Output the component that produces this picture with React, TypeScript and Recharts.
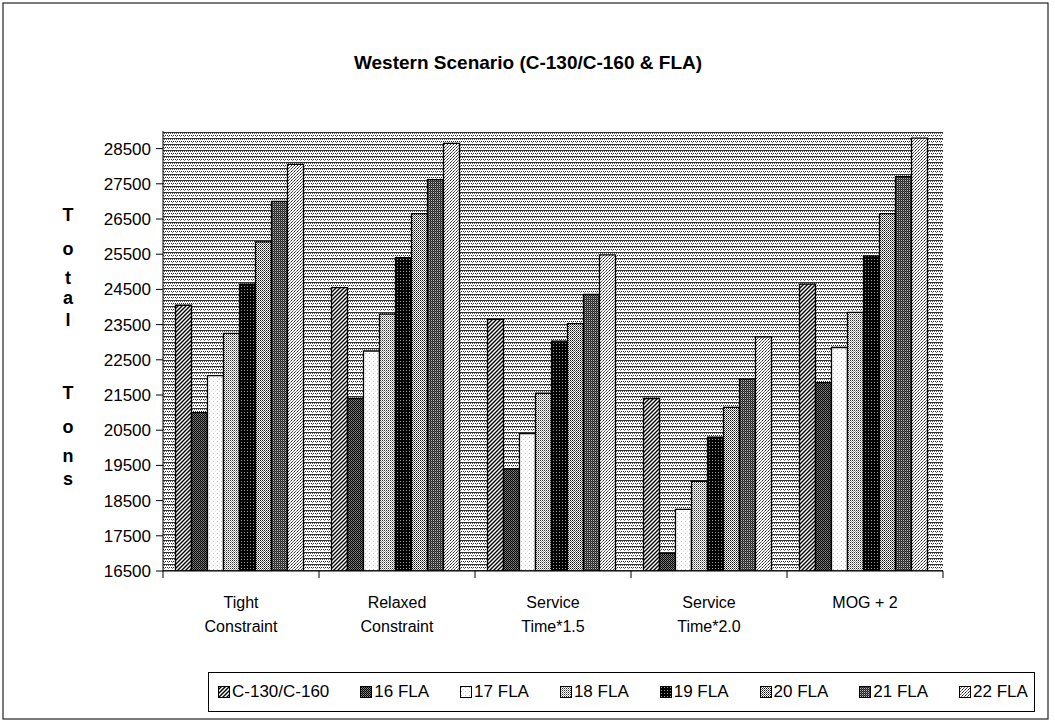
import React from 'react';
import { BarChart, Bar, XAxis, YAxis, CartesianGrid } from 'recharts';

const categories = ['Tight Constraint', 'Relaxed Constraint', 'Service Time*1.5', 'Service Time*2.0', 'MOG + 2'];
const categoryLines = [['Tight', 'Constraint'], ['Relaxed', 'Constraint'], ['Service', 'Time*1.5'], ['Service', 'Time*2.0'], ['MOG + 2']];

const seriesNames = ['C-130/C-160', '16 FLA', '17 FLA', '18 FLA', '19 FLA', '20 FLA', '21 FLA', '22 FLA'];
const c130 = [24050, 24550, 23650, 21400, 24650];
const fla16 = [21000, 21400, 19400, 17000, 21850];
const fla17 = [22050, 22750, 20400, 18250, 22850];
const fla18 = [23250, 23800, 21550, 19050, 23850];
const fla19 = [24650, 25400, 23030, 20300, 25450];
const fla20 = [25850, 26650, 23530, 21150, 26650];
const fla21 = [27000, 27620, 24360, 21950, 27700];
const fla22 = [28050, 28650, 25480, 23150, 28800];
const yTicks = [16500, 17500, 18500, 19500, 20500, 21500, 22500, 23500, 24500, 25500, 26500, 27500, 28500];

const series = [c130, fla16, fla17, fla18, fla19, fla20, fla21, fla22];
const keys = ['s0', 's1', 's2', 's3', 's4', 's5', 's6', 's7'];

const data = categories.map((name, i) => {
  const row: any = { name };
  series.forEach((s, j) => { row[keys[j]] = s[i]; });
  return row;
});

const W = 1055;
const H = 728;
const PLOT_L = 163;
const PLOT_R = 943;
const PLOT_T = 131;
const PLOT_B = 571;
const FONT = '"Liberation Sans", Arial, Helvetica, sans-serif';

const Patterns = () => (
  <svg width={0} height={0} style={{ position: 'absolute' }}>
    <defs>
      <pattern id="bgPat" width="4" height="6" patternUnits="userSpaceOnUse">
        <rect width="4" height="6" fill="#fff" />
        <rect y="0" width="4" height="1" fill="#333" />
        <rect x="0" y="1" width="1" height="1" fill="#555" />
        <rect x="2" y="1" width="1" height="1" fill="#555" />
        <rect x="1" y="3" width="1" height="1" fill="#222" />
        <rect x="3" y="3" width="1" height="1" fill="#222" />
        <rect x="0" y="4" width="1" height="1" fill="#888" />
      </pattern>
      <pattern id="p0" width="4" height="4" patternUnits="userSpaceOnUse">
        <rect width="4" height="4" fill="#fff" />
        <path d="M0,4 L4,0 M-1,1 L1,-1 M3,5 L5,3" stroke="#000" strokeWidth="1.4" />
      </pattern>
      <pattern id="p1" width="2" height="2" patternUnits="userSpaceOnUse">
        <rect width="2" height="2" fill="#000" />
        <rect x="1" y="0" width="1" height="1" fill="#888" />
        <rect x="0" y="1" width="1" height="1" fill="#666" />
      </pattern>
      <pattern id="p2" width="4" height="4" patternUnits="userSpaceOnUse">
        <rect width="4" height="4" fill="#fff" />
        <rect x="1" y="1" width="1" height="1" fill="#bbb" />
        <rect x="3" y="3" width="1" height="1" fill="#ddd" />
      </pattern>
      <pattern id="p3" width="2" height="2" patternUnits="userSpaceOnUse">
        <rect width="2" height="2" fill="#fff" />
        <rect x="0" y="0" width="1" height="1" fill="#333" />
        <rect x="1" y="1" width="1" height="1" fill="#999" />
      </pattern>
      <pattern id="p4" width="3" height="3" patternUnits="userSpaceOnUse">
        <rect width="3" height="3" fill="#000" />
        <rect x="1" y="1" width="1" height="1" fill="#999" />
      </pattern>
      <pattern id="p5" width="2" height="2" patternUnits="userSpaceOnUse">
        <rect width="2" height="2" fill="#fff" />
        <rect x="0" y="0" width="1" height="1" fill="#111" />
        <rect x="1" y="1" width="1" height="1" fill="#666" />
      </pattern>
      <pattern id="p6" width="2" height="2" patternUnits="userSpaceOnUse">
        <rect width="2" height="2" fill="#222" />
        <rect x="1" y="0" width="1" height="1" fill="#bbb" />
        <rect x="0" y="1" width="1" height="1" fill="#555" />
      </pattern>
      <pattern id="p7" width="3" height="3" patternUnits="userSpaceOnUse">
        <rect width="3" height="3" fill="#fff" />
        <rect x="0" y="0" width="1" height="1" fill="#222" />
        <rect x="2" y="1" width="1" height="1" fill="#777" />
        <rect x="1" y="2" width="1" height="1" fill="#555" />
      </pattern>
    </defs>
  </svg>
);

const CategoryTick = (props: any) => {
  const { x, y, index } = props;
  const lines = categoryLines[index] || [String(props.payload.value)];
  const half = (PLOT_R - PLOT_L) / categories.length / 2;
  return (
    <g>
      <line x1={x - half} y1={y} x2={x - half} y2={y + 7} stroke="#000" />
      {index === categories.length - 1 && (
        <line x1={x + half} y1={y} x2={x + half} y2={y + 7} stroke="#000" />
      )}
      <text x={x} y={y} textAnchor="middle" fontSize={16} fontFamily={FONT} fill="#000">
        {lines.map((l: string, i: number) => (
          <tspan key={i} x={x} dy={i === 0 ? 37 : 24}>{l}</tspan>
        ))}
      </text>
    </g>
  );
};

const yLetters = [
  ['T', 221], ['o', 255], ['t', 284], ['a', 304], ['l', 326],
  ['T', 399], ['o', 433], ['n', 462], ['s', 485],
];

export default function App() {
  return (
    <div style={{ position: 'absolute', left: 0, top: 0, width: W, height: H, background: '#fff', fontFamily: FONT }}>
      <Patterns />
      <BarChart
        width={W}
        height={H}
        data={data}
        margin={{ top: PLOT_T, right: W - PLOT_R, bottom: H - PLOT_B - 30, left: 0 }}
        barCategoryGap="8%"
        barGap={0}
      >
        <CartesianGrid horizontal={false} vertical={false} fill="url(#bgPat)" />
        <XAxis
          dataKey="name"
          height={30}
          tickSize={0}
          tickMargin={0}
          axisLine={{ stroke: '#000', strokeWidth: 1 }}
          tick={<CategoryTick />}
          interval={0}
        />
        <YAxis
          width={PLOT_L}
          domain={[16500, 29000]}
          ticks={yTicks}
          interval={0}
          allowDataOverflow
          axisLine={{ stroke: '#000', strokeWidth: 1 }}
          tickLine={{ stroke: '#000' }}
          tickSize={7}
          tickMargin={5}
          tick={{ fill: '#000', fontSize: 17, fontFamily: FONT }}
        />
        {keys.map((k, i) => (
          <Bar
            key={k}
            dataKey={k}
            name={seriesNames[i]}
            fill={`url(#p${i})`}
            stroke="#000"
            strokeWidth={1.3}
            isAnimationActive={false}
          />
        ))}
      </BarChart>

      <svg width={W} height={H} style={{ position: 'absolute', left: 0, top: 0, pointerEvents: 'none' }}>
        <rect x={3} y={3} width={1045} height={716} fill="none" stroke="#222" strokeWidth={1.2} />
        <text x={528} y={69} textAnchor="middle" fontSize={19} fontWeight="bold" fontFamily={FONT} fill="#000">
          Western Scenario (C-130/C-160 &amp; FLA)
        </text>
        {yLetters.map(([ch, y], i) => (
          <text key={i} x={68} y={y as number} textAnchor="middle" fontSize={18} fontWeight="bold" fontFamily={FONT} fill="#000">
            {ch}
          </text>
        ))}
      </svg>

      <div
        style={{
          position: 'absolute',
          left: 208,
          top: 672,
          width: 827,
          height: 40,
          border: '1px solid #000',
          boxSizing: 'border-box',
          display: 'flex',
          alignItems: 'center',
          justifyContent: 'space-between',
          paddingLeft: 9,
          paddingRight: 6,
          fontSize: 17,
          color: '#000',
        }}
      >
        {seriesNames.map((n, i) => (
          <div key={n} style={{ display: 'flex', alignItems: 'center', whiteSpace: 'nowrap' }}>
            <svg width={12} height={12} style={{ marginRight: 2 }}>
              <rect x={0.5} y={0.5} width={11} height={11} fill={`url(#p${i})`} stroke="#000" />
            </svg>
            <span>{n}</span>
          </div>
        ))}
      </div>
    </div>
  );
}
